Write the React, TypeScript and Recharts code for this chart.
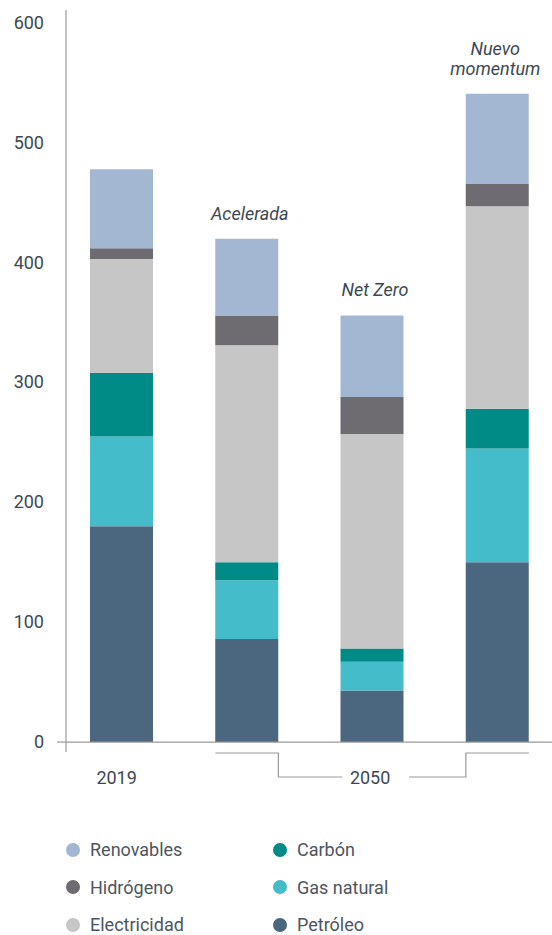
import React from 'react';
import { BarChart, Bar, XAxis, YAxis, ReferenceLine, LabelList } from 'recharts';

// scenarios on the x axis
const scenarios = ['2019', 'Acelerada', 'Net Zero', 'Nuevo momentum'];
const topLabels = ['', 'Acelerada', 'Net Zero', 'Nuevo momentum'];

// stacked values, bottom to top
const petroleo = [180, 86, 43, 150];
const gasNatural = [75, 49, 24, 95];
const carbon = [53, 15, 11, 33];
const electricidad = [95, 181, 179, 169];
const hidrogeno = [9, 25, 31, 19];
const renovables = [66, 64, 68, 75];

const yTicks = [0, 100, 200, 300, 400, 500, 600];

const series = [
  { key: 'petroleo', name: 'Petróleo', color: '#4A677F', values: petroleo },
  { key: 'gas', name: 'Gas natural', color: '#44BCCA', values: gasNatural },
  { key: 'carbon', name: 'Carbón', color: '#008B87', values: carbon },
  { key: 'elec', name: 'Electricidad', color: '#C6C6C6', values: electricidad },
  { key: 'hidro', name: 'Hidrógeno', color: '#6E6C70', values: hidrogeno },
  { key: 'renov', name: 'Renovables', color: '#A3B7D3', values: renovables },
];

// legend is laid out in two columns
const legendCols = [
  ['Renovables', 'Hidrógeno', 'Electricidad'],
  ['Carbón', 'Gas natural', 'Petróleo'],
];

const data = scenarios.map((s, i) => {
  const row: Record<string, string | number> = { scenario: s, top: topLabels[i] };
  series.forEach(ser => { row[ser.key] = ser.values[i]; });
  return row;
});

const TEXT = '#3e4854';
const AXIS = '#999999';
const FONT = 'Roboto, sans-serif';
const FS = 18;
const BAR = 63;
const BAND = 125.25;

const YTick = (props: any) => {
  const { x, y, payload } = props;
  return (
    <g>
      <text x={x} y={y} dy={6} textAnchor="end" fill={TEXT} fontSize={FS} fontFamily={FONT}>
        {payload.value}
      </text>
      {payload.value === 0 && <line x1={x + 13} x2={x + 22} y1={y} y2={y} stroke={AXIS} strokeWidth={1.2} />}
    </g>
  );
};

const XTick = (props: any) => {
  const { x, y, index } = props;
  if (index === 0) {
    return (
      <text x={x - 5} y={y + 32} textAnchor="middle" fill={TEXT} fontSize={FS} fontFamily={FONT}>
        2019
      </text>
    );
  }
  if (index === 2) {
    const l = x - BAND - BAR / 2;
    const lIn = x - BAND + BAR / 2;
    const rIn = x + BAND - BAR / 2;
    const r = x + BAND + BAR / 2;
    const top = y + 1;
    const bot = y + 25;
    return (
      <g>
        <polyline points={`${l},${top} ${lIn},${top} ${lIn},${bot} ${x - 30},${bot}`} fill="none" stroke={AXIS} strokeWidth={1.2} />
        <polyline points={`${x + 37},${bot} ${rIn},${bot} ${rIn},${top} ${r},${top}`} fill="none" stroke={AXIS} strokeWidth={1.2} />
        <text x={x - 2} y={bot + 7} textAnchor="middle" fill={TEXT} fontSize={FS} fontFamily={FONT}>
          2050
        </text>
      </g>
    );
  }
  return null;
};

const TopLabel = (props: any) => {
  const { x, y, width, value } = props;
  if (!value) return null;
  const twoLines = value === 'Nuevo momentum';
  const cx = x + width / 2 + (twoLines ? -2 : 3);
  const words = twoLines ? ['Nuevo', 'momentum'] : [value];
  return (
    <text textAnchor="middle" fill={TEXT} fontSize={FS} fontStyle="italic" fontFamily={FONT}>
      {words.map((w: string, i: number) => (
        <tspan key={w} x={cx} y={y - 19 - (words.length - 1 - i) * 20}>{w}</tspan>
      ))}
    </text>
  );
};

export default function App() {
  const colorOf = (name: string) => series.find(s => s.name === name)!.color;
  return (
    <div style={{ position: 'absolute', left: 0, top: 0, width: 552, height: 935, background: '#fff' }}>
      <BarChart width={552} height={800} data={data} margin={{ top: 10, right: 0, bottom: 0, left: 0 }}>
        <YAxis
          type="number"
          domain={[-8.3, 610.8]}
          ticks={yTicks}
          allowDataOverflow
          width={66}
          axisLine={{ stroke: AXIS, strokeWidth: 1.2 }}
          tickLine={false}
          tickSize={6}
          tickMargin={16}
          tick={<YTick />}
        />
        <XAxis
          dataKey="scenario"
          height={48}
          axisLine={false}
          tickLine={false}
          tickSize={0}
          tickMargin={0}
          padding={{ left: -7, right: -8 }}
          interval={0}
          tick={<XTick />}
        />
        <ReferenceLine y={0} stroke={AXIS} strokeWidth={1.2} />
        {series.map((s, i) => (
          <Bar key={s.key} dataKey={s.key} name={s.name} stackId="a" fill={s.color} barSize={BAR} isAnimationActive={false}>
            {i === series.length - 1 && <LabelList dataKey="top" content={<TopLabel />} />}
          </Bar>
        ))}
      </BarChart>
      <div style={{ position: 'absolute', top: 837, left: 66, display: 'flex', fontFamily: FONT, fontSize: FS, color: '#4d5560' }}>
        {legendCols.map((col, ci) => (
          <div key={ci} style={{ width: 207 }}>
            {col.map(name => (
              <div key={name} style={{ display: 'flex', alignItems: 'center', height: 37.5 }}>
                <span style={{ width: 14, height: 14, borderRadius: 7, background: colorOf(name), marginRight: 10, marginTop: -12 }} />
                <span style={{ marginTop: -12 }}>{name}</span>
              </div>
            ))}
          </div>
        ))}
      </div>
    </div>
  );
}
